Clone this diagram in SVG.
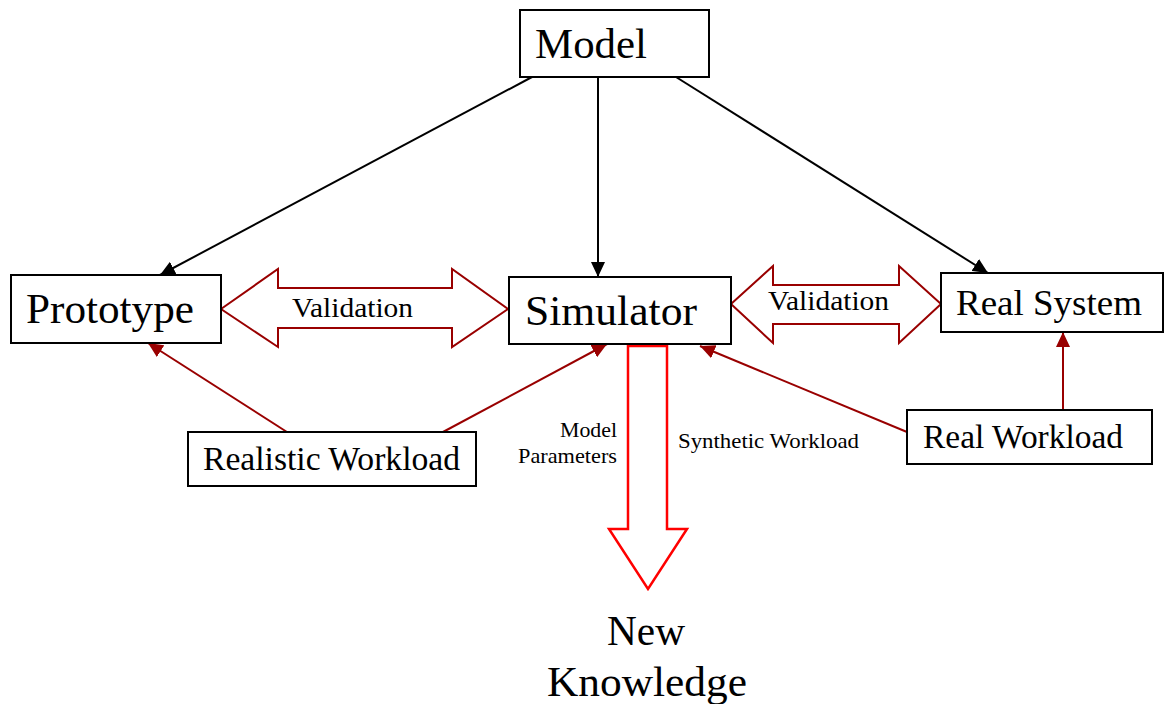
<svg xmlns="http://www.w3.org/2000/svg" width="1166" height="704" viewBox="0 0 1166 704">
<style>
.box{fill:#fff;stroke:#000;stroke-width:2}
.t{font-family:'Liberation Serif','Times New Roman',Tinos,Times,serif;fill:#000}
.blk{stroke:#000;stroke-width:2;fill:none}
.dr{stroke:#990000;stroke-width:2;fill:none}
.val{fill:#fff;stroke:#990000;stroke-width:2}
.big{fill:#fff;stroke:#ff0000;stroke-width:2.5}
</style>
<defs>
<marker id="ab" markerUnits="userSpaceOnUse" markerWidth="16" markerHeight="14" refX="15" refY="7" orient="auto"><path d="M0,0 L15,7 L0,14 Z" fill="#000"/></marker>
<marker id="ar" markerUnits="userSpaceOnUse" markerWidth="16" markerHeight="14" refX="15" refY="7" orient="auto"><path d="M0,0 L15,7 L0,14 Z" fill="#990000"/></marker>
</defs>
<rect width="1166" height="704" fill="#fff"/>
<g id="connectors">
<line class="blk" x1="532" y1="77" x2="160" y2="275" marker-end="url(#ab)"/>
<line class="blk" x1="598" y1="77" x2="598" y2="277" marker-end="url(#ab)"/>
<line class="blk" x1="676" y1="77" x2="988" y2="273" marker-end="url(#ab)"/>
<line class="dr" x1="287" y1="432" x2="148" y2="343" marker-end="url(#ar)"/>
<line class="dr" x1="443" y1="432" x2="607" y2="344" marker-end="url(#ar)"/>
<line class="dr" x1="907" y1="432" x2="700" y2="346" marker-end="url(#ar)"/>
<line class="dr" x1="1063" y1="410" x2="1063" y2="332" marker-end="url(#ar)"/>
<g id="validation-left">
<polygon class="val" points="221,309 278,269 278,288 452,288 452,269 508,309 452,347 452,328 278,328 278,347"/>
<text class="t" x="292" y="317" font-size="28" textLength="121" lengthAdjust="spacingAndGlyphs">Validation</text>
</g>
<g id="validation-right">
<polygon class="val" points="731,304 773,266 773,285 899,285 899,266 941,304 899,343 899,324 773,324 773,343"/>
<text class="t" x="768" y="310" font-size="28" textLength="121" lengthAdjust="spacingAndGlyphs">Validation</text>
</g>
<g id="new-knowledge-arrow">
<polygon class="big" points="628,346 667,346 667,529 687,529 648,589 609,529 628,529"/>
<text class="t" x="560" y="437" font-size="22" textLength="57" lengthAdjust="spacingAndGlyphs">Model</text>
<text class="t" x="518" y="463" font-size="22" textLength="99" lengthAdjust="spacingAndGlyphs">Parameters</text>
<text class="t" x="678" y="448" font-size="22" textLength="181" lengthAdjust="spacingAndGlyphs">Synthetic Workload</text>
</g>
</g>
<g id="model"><rect class="box" x="520" y="10" width="189" height="67"/><text class="t" x="535" y="58" font-size="43" textLength="112" lengthAdjust="spacingAndGlyphs">Model</text></g>
<g id="prototype"><rect class="box" x="11" y="275" width="210" height="68"/><text class="t" x="26" y="323" font-size="43" textLength="168" lengthAdjust="spacingAndGlyphs">Prototype</text></g>
<g id="simulator"><rect class="box" x="509" y="277" width="222" height="67"/><text class="t" x="525" y="325" font-size="43" textLength="172" lengthAdjust="spacingAndGlyphs">Simulator</text></g>
<g id="real-system"><rect class="box" x="941" y="273" width="222" height="59"/><text class="t" x="956" y="315" font-size="36" textLength="186" lengthAdjust="spacingAndGlyphs">Real System</text></g>
<g id="realistic-workload"><rect class="box" x="188" y="432" width="288" height="54"/><text class="t" x="203" y="470" font-size="33" textLength="257" lengthAdjust="spacingAndGlyphs">Realistic Workload</text></g>
<g id="real-workload"><rect class="box" x="907" y="410" width="245" height="54"/><text class="t" x="923" y="448" font-size="33" textLength="200" lengthAdjust="spacingAndGlyphs">Real Workload</text></g>
<g id="new-knowledge"><text class="t" x="607" y="645" font-size="43" textLength="78" lengthAdjust="spacingAndGlyphs">New</text><text class="t" x="547" y="696" font-size="43" textLength="200" lengthAdjust="spacingAndGlyphs">Knowledge</text></g>
</svg>
